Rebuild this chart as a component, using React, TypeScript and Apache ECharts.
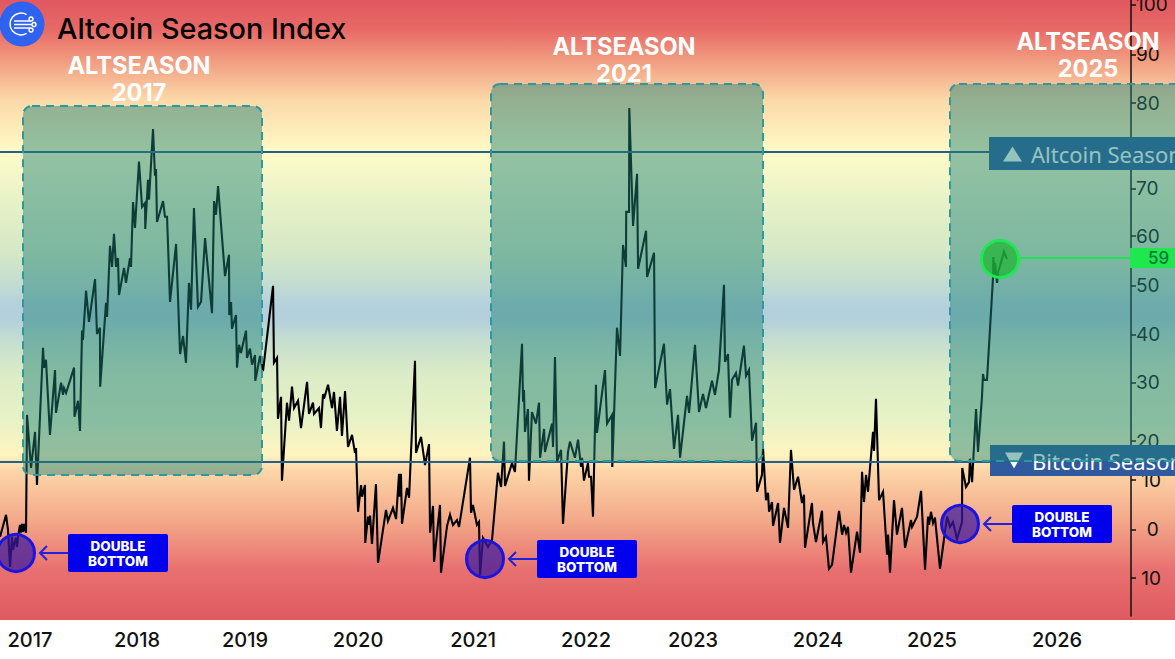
import React, { useEffect, useRef } from "react";
import * as echarts from "echarts";

// Each pair: [years since 2017, index value]
const era2017: number[][] = [[-0.263,-1.85],[-0.21,2.67],[-0.193,-0.41],[-0.175,-8],[-0.158,-1.85],[-0.149,-4.5],[-0.123,-2.05],[-0.114,-3.9],[-0.105,-1.85],[-0.088,0.6],[-0.079,-1],[-0.07,0.8],[-0.061,-0.8],[-0.053,0.8],[-0.035,-1],[-0.026,23.2],[0.009,12.3],[0.044,19.7],[0.061,8.8],[0.114,37],[0.123,32.9],[0.14,34.5],[0.175,19.1],[0.219,32.4],[0.228,23.6],[0.272,29.8],[0.289,27.3],[0.298,28.7],[0.316,27.7],[0.386,32.9],[0.39,22.8],[0.421,26.1],[0.438,19.9],[0.456,40.5],[0.464,38.6],[0.491,48.7],[0.517,42.3],[0.57,51.1],[0.587,39.8],[0.613,41.1],[0.615,29],[0.666,46.2],[0.675,43.3],[0.701,57.9],[0.719,53.6],[0.736,60.4],[0.754,53.6],[0.771,55.4],[0.78,47.8],[0.824,53.4],[0.841,50.3],[0.876,55.4],[0.885,53.6],[0.903,66.9],[0.92,61.6],[0.955,75.2],[0.982,65.9]];
const era2018: number[][] = [[1.008,66.7],[1.01,61.4],[1.034,71.5],[1.043,67.4],[1.078,81.9],[1.095,72.3],[1.104,73.7],[1.113,62.8],[1.166,67.1],[1.183,63.9],[1.201,63.9],[1.227,46.4],[1.28,58.3],[1.315,35.7],[1.341,39.4],[1.367,33.9],[1.393,50.3],[1.411,44.8],[1.437,65.7],[1.472,45.4],[1.499,46.4],[1.534,59.5],[1.595,44.1],[1.613,67.1],[1.63,64.3],[1.648,70.2],[1.709,51.7],[1.744,56.1],[1.746,43.7],[1.762,46.4],[1.77,40.9],[1.805,43.7],[1.814,32.9],[1.832,37.6],[1.849,35.9],[1.893,40.5],[1.902,34.9],[1.928,36.8],[1.946,33.5],[1.972,35.5],[1.974,30.2]];
const era2019: number[][] = [[2.016,35.3],[2.042,32.2],[2.13,49.7],[2.138,33.9],[2.165,34.9],[2.173,22.4],[2.2,26.9],[2.208,9.7],[2.252,25.7],[2.27,22],[2.296,29],[2.314,24.6],[2.349,26.1],[2.375,20.5],[2.428,30],[2.445,23.4],[2.48,25.7],[2.489,23.4],[2.533,24.6],[2.55,20.5],[2.568,27.5],[2.577,26.5],[2.612,29.4],[2.647,24.6],[2.664,27.9],[2.69,19.9],[2.717,26.9],[2.734,18.9],[2.761,28.1],[2.787,16.6],[2.822,19.1],[2.848,15.4],[2.857,16.4],[2.875,3.3],[2.901,8.8],[2.91,6.4],[2.936,8.8],[2.938,-3.1],[2.962,2.3],[2.971,0.6],[2.98,2.5],[2.997,-3.3]];
const era2020: number[][] = [[3.032,9],[3.05,-7.2],[3.12,3.7],[3.137,1.4],[3.181,4.1],[3.208,1.8],[3.234,11.1],[3.236,6.4],[3.251,11.1],[3.26,0.8],[3.304,8.2],[3.322,6.2],[3.374,34.3],[3.383,15.4],[3.427,18.7],[3.462,12.9],[3.497,17.2],[3.506,-1],[3.532,4.5],[3.541,-7],[3.593,4.7],[3.602,-9.2],[3.655,0.4],[3.681,2.7],[3.707,0.6],[3.742,1.6],[3.76,0.2],[3.856,14.4],[3.865,3.1],[3.882,4.7],[3.917,0.6],[3.935,1.2],[3.944,-9.7],[3.97,-2.1]];
const era2021: number[][] = [[4.014,-3.9],[4.049,-2.5],[4.101,11.3],[4.128,8.4],[4.154,17.7],[4.163,8.6],[4.224,13.3],[4.25,11.5],[4.312,37.8],[4.321,25.9],[4.329,28.3],[4.338,19.7],[4.364,24.4],[4.373,9.7],[4.399,23.8],[4.434,21.4],[4.461,25.7],[4.47,14.4],[4.505,20.3],[4.513,15.6],[4.575,21.4],[4.584,16.6],[4.601,35.1],[4.619,13.6],[4.654,16],[4.671,0.8],[4.715,15.6],[4.732,17.7],[4.776,14.4],[4.803,18.1],[4.829,12.5],[4.838,14.4],[4.855,9.7],[4.89,13.3],[4.899,10.5],[4.917,10.5],[4.934,2.3],[4.96,29.4],[4.969,19.5]];
const era2022: number[][] = [[5.039,32.4],[5.057,21.4],[5.101,23.2],[5.103,12.5],[5.144,41.1],[5.171,35.3],[5.197,58.1],[5.223,53.6],[5.225,64.9],[5.25,64.9],[5.252,86.2],[5.285,62],[5.32,72.7],[5.329,53.2],[5.399,61],[5.408,51.5],[5.469,56.5],[5.478,28.7],[5.556,37.8],[5.583,25.3],[5.609,28.5],[5.644,16.2],[5.679,23.2],[5.697,14.4],[5.758,27.1],[5.776,23.6],[5.828,37.6],[5.863,23.8],[5.898,27.5],[5.924,24.6],[5.977,30.2]];
const era2023: number[][] = [[6.003,27.3],[6.038,32.4],[6.082,49.9],[6.091,34.1],[6.117,35.7],[6.135,22.6],[6.152,30.4],[6.187,31.8],[6.205,29.2],[6.257,37.4],[6.275,31.2],[6.301,32.4],[6.328,17.9],[6.363,21.6],[6.372,7.4],[6.415,10.9],[6.424,16.4],[6.45,5.7],[6.468,7.2],[6.477,3.3],[6.503,5.3],[6.512,0.4],[6.556,5.1],[6.573,-3.1],[6.608,4.1],[6.643,0],[6.669,16],[6.696,7.8],[6.731,10.5],[6.766,5.1],[6.783,6.8],[6.792,-4.1],[6.853,5.1],[6.862,1],[6.888,-2.9],[6.941,3.5],[6.95,-2.9],[6.976,-1.8]];
const era2024: number[][] = [[7.002,-8.4],[7.029,-7.6],[7.09,3.5],[7.117,-1.4],[7.134,0.6],[7.152,-1],[7.169,0.2],[7.195,-9.2],[7.248,-0.8],[7.274,-5.1],[7.292,11.5],[7.309,5.3],[7.327,10.9],[7.344,7.4],[7.388,19.7],[7.397,15.8],[7.414,26.5],[7.441,5.7],[7.476,7.4],[7.511,-5.5],[7.52,-1.4],[7.537,-9.2],[7.572,5.7],[7.598,-1.4],[7.642,4.1],[7.669,-4.1],[7.721,1.6],[7.73,0.2],[7.774,2.3],[7.809,7.6],[7.844,-8.6],[7.87,2.3],[7.879,0.6],[7.896,3.3],[7.914,1],[7.931,2.1],[7.975,-8.4]];
const era2025: number[][] = [[8.037,2.3],[8.063,0.2],[8.089,1.2],[8.124,-2.3],[8.168,1.2],[8.17,12.3],[8.203,8.4],[8.229,9.4],[8.238,14.2],[8.256,9.4],[8.291,24.4],[8.308,15.6],[8.343,26.9],[8.352,31.6],[8.361,30.4],[8.387,30.4],[8.44,51.5],[8.442,55.6],[8.449,52],[8.458,54.4],[8.475,50.3],[8.484,52.4],[8.536,56.7],[8.562,55.2]];

const baseYear = 2017;
const xTickLabels = ["2017", "2018", "2019", "2020", "2021", "2022", "2023", "2024", "2025", "2026"];
const xTickOffsets = [0, 0.938, 1.884, 2.875, 3.883, 4.873, 5.811, 6.906, 7.905, 9.001];
const yTickLabels = ["100", "90", "80", "70", "60", "50", "40", "30", "20", " 10", "  0", " 10"];
const yTickPositions = [107.5, 97.2, 87.2, 69.7, 59.9, 49.7, 39.7, 29.9, 17.8, 9.8, -0.4, -10.3];
const altcoinThreshold = 77.2;
const bitcoinThreshold = 13.55;
const thresholdStart = -0.263;
const thresholdEnd = 8.414;
const latestLabel = "59";

const gradientStops: [number, string][] = [
  [0, "#e05860"], [30, "#e86a66"], [60, "#f19b80"], [100, "#fcd9a8"], [140, "#fef3c0"], [152, "#fffbc8"],
  [200, "#e8f2c8"], [255, "#d4e7c6"], [285, "#c2dcd2"], [305, "#b4d0dc"], [318, "#b2cfdc"], [340, "#c5ddd0"],
  [375, "#dcecc6"], [420, "#e8f2c6"], [455, "#fff4c0"], [470, "#fdd6a8"], [520, "#f3a98a"], [570, "#e87070"], [620, "#de5a60"],
];

const mainFont = "Inter, 'Noto Sans', sans-serif";

function seasonBox(x: number, y: number, width: number, height: number) {
  return {
    type: "rect", z: 100, silent: true,
    shape: { x, y, width, height, r: 9 },
    style: { fill: "rgba(30,130,120,0.47)", stroke: "#2a9a9e", lineWidth: 2, lineDash: [8, 6] },
  };
}

function seasonTitle(cx: number, y: number, a: string, b: string) {
  const s = { fill: "#fff", font: `700 23.6px ${mainFont}`, align: "center", verticalAlign: "middle", shadowColor: "rgba(110,20,20,0.8)", shadowBlur: 5, shadowOffsetY: 1 };
  return [
    { type: "text", z: 130, silent: true, x: cx, y, style: { ...s, text: a } },
    { type: "text", z: 130, silent: true, x: cx, y: y + 27, style: { ...s, text: b } },
  ];
}

function doubleBottom(cx: number, cy: number, bx: number, by: number) {
  const ay = by + 19;
  const tip = cx + 24;
  const base = { z: 120, silent: true };
  return [
    { ...base, type: "circle", shape: { cx, cy, r: 18.5 }, style: { fill: "rgba(60,25,160,0.72)", stroke: "#1a14e0", lineWidth: 3 } },
    { ...base, type: "line", shape: { x1: tip, y1: ay, x2: bx, y2: ay }, style: { stroke: "#2222dd", lineWidth: 2 } },
    { ...base, type: "polyline", shape: { points: [[tip + 7, ay - 7], [tip, ay], [tip + 7, ay + 7]] }, style: { stroke: "#2222dd", lineWidth: 2, fill: "none" } },
    { ...base, type: "rect", shape: { x: bx, y: by, width: 100, height: 38, r: 2 }, style: { fill: "#0000ee" } },
    { ...base, type: "text", x: bx + 50, y: by + 12, style: { text: "DOUBLE", fill: "#fff", font: `800 13.5px ${mainFont}`, align: "center", verticalAlign: "middle" } },
    { ...base, type: "text", x: bx + 50, y: by + 27, style: { text: "BOTTOM", fill: "#fff", font: `800 13.5px ${mainFont}`, align: "center", verticalAlign: "middle" } },
  ];
}

function logo() {
  const base = { z: 130, silent: true };
  const white = { stroke: "#fff", lineWidth: 1.5, fill: "none" };
  return [
    { ...base, type: "circle", shape: { cx: 22, cy: 24, r: 22.5 }, style: { fill: "#2f62ef" } },
    { ...base, type: "arc", shape: { cx: 21, cy: 24, r: 11, startAngle: Math.PI * 0.33, endAngle: Math.PI * 1.67, clockwise: true }, style: white },
    { ...base, type: "line", shape: { x1: 14, y1: 21, x2: 30, y2: 21 }, style: white },
    { ...base, type: "line", shape: { x1: 14, y1: 24.5, x2: 33, y2: 24.5 }, style: white },
    { ...base, type: "line", shape: { x1: 14, y1: 28, x2: 30, y2: 28 }, style: white },
    { ...base, type: "circle", shape: { cx: 31, cy: 19, r: 2 }, style: { ...white, fill: "#2f62ef" } },
    { ...base, type: "circle", shape: { cx: 34, cy: 24.5, r: 2 }, style: { ...white, fill: "#2f62ef" } },
    { ...base, type: "circle", shape: { cx: 31, cy: 30, r: 2 }, style: { ...white, fill: "#2f62ef" } },
  ];
}

function statusTag(x: number, y: number, height: number, up: boolean, text: string) {
  const cy = y + height / 2;
  const pts = up ? [[x + 14, cy + 8], [x + 33, cy + 8], [x + 23.5, cy - 7]] : [[x + 15, cy - 8], [x + 33, cy - 8], [x + 24, cy + 8]];
  return [
    { type: "rect", z: 50, silent: true, shape: { x, y, width: 190, height }, style: { fill: "#2f5a9e" } },
    { type: "polygon", z: 51, silent: true, shape: { points: pts }, style: { fill: "#fff" } },
    { type: "text", z: 51, silent: true, x: x + 42, y: cy, style: { text, fill: "#fff", font: "400 22px 'Noto Sans', sans-serif", align: "left", verticalAlign: "middle" } },
  ];
}

export default function App() {
  const ref = useRef<HTMLDivElement>(null);
  useEffect(() => {
    if (!ref.current) return;
    const chart = echarts.init(ref.current, undefined, { renderer: "svg" });
    const lineData = [...era2017, ...era2018, ...era2019, ...era2020, ...era2021, ...era2022, ...era2023, ...era2024, ...era2025]
      .map(([o, v]) => [baseYear + o, v]);
    const xTicks = xTickOffsets.map((o) => baseYear + o);
    const xLabelOf = (v: number) => xTickLabels[xTicks.findIndex((t) => Math.abs(t - v) < 1e-6)] ?? "";
    const yLabelOf = (v: number) => yTickLabels[yTickPositions.findIndex((t) => Math.abs(t - v) < 1e-6)] ?? "";
    const threshold = (v: number) => [
      { xAxis: baseYear + thresholdStart, yAxis: v },
      { xAxis: baseYear + thresholdEnd, yAxis: v },
    ];

    chart.setOption({
      animation: false,
      backgroundColor: "#ffffff",
      grid: { left: 0, right: 44, top: 0, bottom: 43, outerBoundsMode: "none" },
      xAxis: {
        type: "value",
        min: 2016.737,
        max: 2026.649,
        axisLine: { show: false },
        axisTick: { show: false },
        splitLine: { show: false },
        axisLabel: {
          customValues: xTicks,
          formatter: (v: number) => xLabelOf(v),
          color: "#111",
          fontFamily: mainFont,
          fontSize: 20,
          fontWeight: 500,
          margin: 14,
        },
      },
      yAxis: {
        type: "value",
        position: "right",
        min: -18.1,
        max: 108.4,
        splitLine: { show: false },
        axisLine: { show: true, lineStyle: { color: "#111", width: 1.5 } },
        axisTick: { show: true, length: 5, customValues: yTickPositions, lineStyle: { color: "#111", width: 1.5 } },
        axisLabel: {
          customValues: yTickPositions,
          formatter: (v: number) => yLabelOf(v),
          color: "#111",
          fontFamily: mainFont,
          fontSize: 19,
          margin: 5,
          align: "left",
        },
      },
      graphic: [
        {
          type: "rect", z: -10, silent: true,
          shape: { x: 0, y: 0, width: 1175, height: 620 },
          style: {
            fill: new echarts.graphic.LinearGradient(0, 0, 0, 1,
              gradientStops.map(([y, color]) => ({ offset: y / 620, color }))),
          },
        },
        ...statusTag(989, 137, 33, true, "Altcoin Season"),
        ...statusTag(990, 445, 31, false, "Bitcoin Season"),
        seasonBox(23, 106, 239, 369),
        seasonBox(491, 84, 272, 377),
        seasonBox(950, 84, 260, 377),
        ...seasonTitle(139, 65, "ALTSEASON", "2017"),
        ...seasonTitle(624, 46, "ALTSEASON", "2021"),
        ...seasonTitle(1088, 41, "ALTSEASON", "2025"),
        ...doubleBottom(16, 553, 68, 534),
        ...doubleBottom(485, 559, 537, 540),
        ...doubleBottom(960, 524, 1012, 505),
        { type: "line", z: 120, silent: true, shape: { x1: 1018, y1: 258, x2: 1131, y2: 258 }, style: { stroke: "#22e34f", lineWidth: 2 } },
        { type: "circle", z: 120, silent: true, shape: { cx: 1000, cy: 259, r: 18.5 }, style: { fill: "rgba(30,180,50,0.72)", stroke: "#1de84f", lineWidth: 3 } },
        { type: "rect", z: 120, silent: true, shape: { x: 1130, y: 248, width: 50, height: 20 }, style: { fill: "#1fe84f" } },
        { type: "text", z: 121, silent: true, x: 1148, y: 258, style: { text: latestLabel, fill: "#14763a", font: `500 17px ${mainFont}`, align: "left", verticalAlign: "middle" } },
        ...logo(),
        { type: "text", z: 130, silent: true, x: 57, y: 28, style: { text: "Altcoin Season Index", fill: "#000", font: `500 28.8px ${mainFont}`, align: "left", verticalAlign: "middle" } },
      ],
      series: [
        {
          type: "line",
          name: "Altcoin Season Index",
          z: 2,
          data: lineData,
          showSymbol: false,
          symbol: "none",
          smooth: false,
          clip: false,
          lineStyle: { color: "#000", width: 2.1, join: "miter", miterLimit: 4 },
        },
        {
          type: "line",
          name: "Thresholds",
          z: 110,
          data: [],
          markLine: {
            silent: true,
            symbol: "none",
            label: { show: false },
            lineStyle: { color: "#2a5f85", width: 2.2, type: "solid" },
            data: [threshold(altcoinThreshold), threshold(bitcoinThreshold)],
          },
        },
      ],
    });
    return () => chart.dispose();
  }, []);
  return <div ref={ref} style={{ position: "fixed", left: 0, top: 0, width: 1175, height: 659 }} />;
}
